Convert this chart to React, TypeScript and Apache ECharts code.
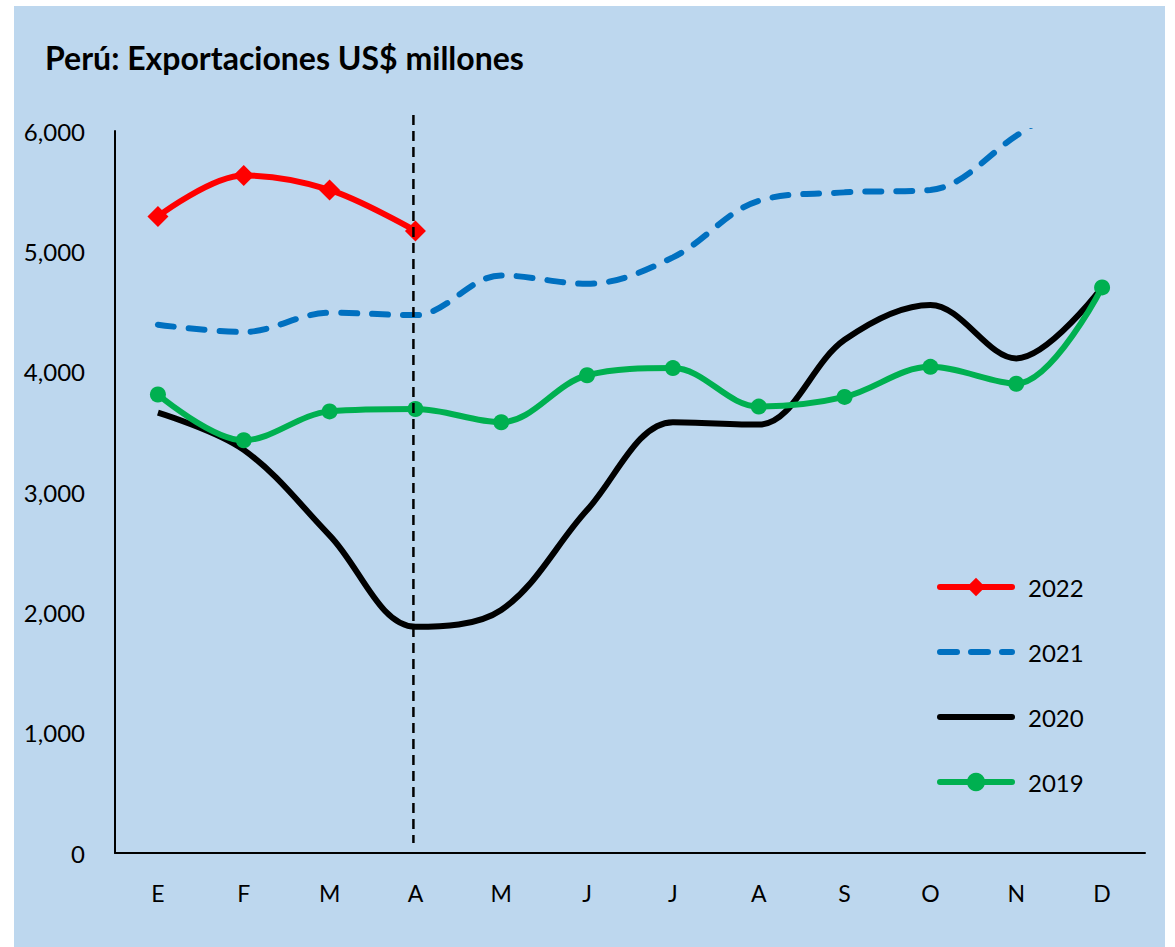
import React, { useEffect, useRef } from "react";
import * as echarts from "echarts";

const months = ["E", "F", "M", "A", "M", "J", "J", "A", "S", "O", "N", "D"];
const yTicks = [0, 1000, 2000, 3000, 4000, 5000, 6000];
const s2022 = [5290, 5630, 5510, 5170];
const s2021 = [4390, 4330, 4490, 4470, 4800, 4730, 4950, 5420, 5490, 5510, 5960, 6450];
const s2020 = [3660, 3350, 2640, 1880, 2020, 2850, 3580, 3560, 4265, 4555, 4110, 4700];
const s2019 = [3810, 3430, 3670, 3690, 3580, 3970, 4030, 3710, 3790, 4040, 3900, 4700];
const title = "Perú: Exportaciones US$ millones";
const FONT = "Lato, 'Noto Sans', sans-serif";
const SMOOTH = 0.35;

export default function App() {
  const ref = useRef<HTMLDivElement>(null);
  useEffect(() => {
    const chart = echarts.init(ref.current!, null, { renderer: "svg" });
    chart.setOption({
      animation: false,
      backgroundColor: "#BDD7EE",
      textStyle: { fontFamily: FONT },
      title: {
        text: title,
        left: 26,
        top: 30,
        textStyle: { fontFamily: FONT, fontWeight: "bold", fontSize: 32, color: "#000" },
      },
      grid: { left: 101, top: 125, right: 20, bottom: 94, containLabel: false },
      legend: {
        orient: "vertical",
        left: 918,
        top: 564,
        itemWidth: 72,
        itemHeight: 23,
        itemGap: 41,
        lineStyle: { width: 6, cap: "round" },
        data: [
          { name: "2022" },
          { name: "2021", itemStyle: { opacity: 0 }, lineStyle: { width: 6, type: [17, 14], cap: "round" } },
          { name: "2020", itemStyle: { opacity: 0 } },
          { name: "2019" },
        ],
        textStyle: { fontFamily: FONT, fontSize: 24, color: "#000", padding: [0, 0, 0, 11] },
      },
      xAxis: {
        type: "category",
        data: months,
        boundaryGap: true,
        axisLine: { show: true, lineStyle: { color: "#000", width: 2 } },
        axisTick: { show: false },
        axisLabel: { color: "#000", fontSize: 23, margin: 28, fontFamily: FONT },
        splitLine: { show: false },
      },
      yAxis: {
        type: "value",
        min: yTicks[0],
        max: yTicks[yTicks.length - 1],
        interval: 1000,
        axisLine: { show: true, lineStyle: { color: "#000", width: 2 } },
        axisTick: { show: false },
        splitLine: { show: false },
        axisLabel: {
          color: "#000",
          fontSize: 24,
          margin: 30,
          fontFamily: FONT,
          formatter: (v: number) => v.toLocaleString("en-US"),
        },
      },
      series: [
        {
          name: "2022",
          type: "line",
          data: s2022,
          smooth: SMOOTH,
          symbol: "diamond",
          symbolSize: 21,
          itemStyle: { color: "#FF0000" },
          lineStyle: { color: "#FF0000", width: 6 },
        },
        {
          name: "2021",
          type: "line",
          data: s2021,
          smooth: SMOOTH,
          symbol: "none",
          clip: true,
          itemStyle: { color: "#0070C0" },
          lineStyle: { color: "#0070C0", width: 6, type: [16, 15], cap: "round" },
        },
        {
          name: "2020",
          type: "line",
          data: s2020,
          smooth: SMOOTH,
          symbol: "none",
          itemStyle: { color: "#000000" },
          lineStyle: { color: "#000000", width: 6 },
        },
        {
          name: "2019",
          type: "line",
          data: s2019,
          smooth: SMOOTH,
          symbol: "circle",
          symbolSize: 16,
          itemStyle: { color: "#00B050" },
          lineStyle: { color: "#00B050", width: 6 },
        },
      ],
    });
    const x = chart.convertToPixel({ xAxisIndex: 0 }, 3) as number;
    const yTop = chart.convertToPixel({ yAxisIndex: 0 }, 6000) as number;
    const yBot = chart.convertToPixel({ yAxisIndex: 0 }, 0) as number;
    chart.setOption({
      graphic: [
        {
          type: "line",
          z: 100,
          shape: { x1: x - 2, y1: yTop - 16, x2: x - 2, y2: yBot - 10 },
          style: { stroke: "#000", lineWidth: 2.5, lineDash: [10, 6] },
        },
      ],
    });
    return () => chart.dispose();
  }, []);
  return (
    <div style={{ position: "fixed", left: 0, top: 0, width: 1175, height: 947, background: "#fff" }}>
      <div ref={ref} style={{ position: "absolute", left: 14, top: 6, width: 1151, height: 941 }} />
    </div>
  );
}
